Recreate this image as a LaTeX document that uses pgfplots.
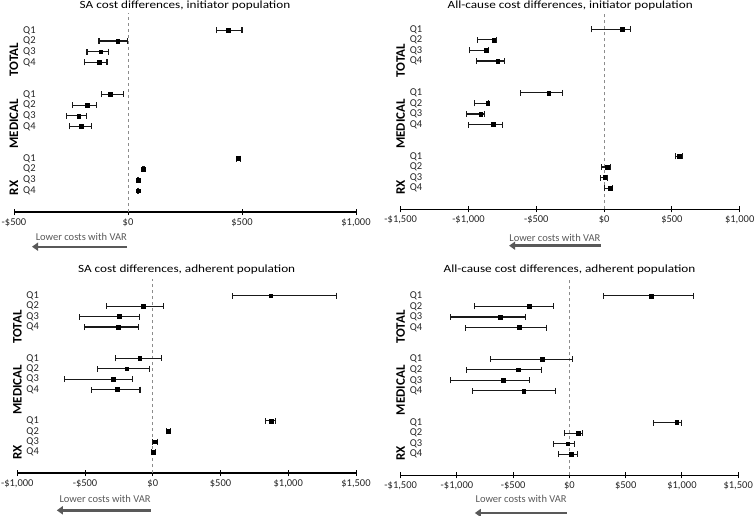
\documentclass[border=0pt]{standalone}
\usepackage{pgfplots}
\pgfplotsset{compat=1.18}
\usepackage{pgfplotstable}
\usepackage{fontspec}
\setmainfont{Carlito}
\newfontfamily\titlefont{Carlito}[FakeStretch=1.2]
\usetikzlibrary{arrows.meta}

% y: row position (TOTAL Q1..Q4 = 17..14, MEDICAL = 11..8, RX = 5..2)
% x: cost difference, ep/em: upper/lower CI distance
\pgfplotstableread{
y x ep em
17 440 60 52
16 -45 41 82
15 -120 35 60
14 -125 33 66
11 -79 61 36
10 -180 40 63
9 -216 35 53
8 -207 48 49
5 484 9 8
4 66 4 4
3 44 3 3
2 45 3 3
}\dataA
\pgfplotstableread{
y x ep em
17 133 61 229
16 -814 18 118
15 -870 17 121
14 -784 51 155
11 -408 103 209
10 -858 7 101
9 -910 28 105
8 -816 69 182
5 556 24 30
4 22 22 42
3 5 17 34
2 44 20 39
}\dataB
\pgfplotstableread{
y x ep em
17 871 487 283
16 -69 150 271
15 -249 148 295
14 -253 147 249
11 -96 162 182
10 -192 165 219
9 -295 145 357
8 -261 167 192
5 876 30 42
4 113 17 15
3 15 19 17
2 5 17 15
}\dataC
\pgfplotstableread{
y x ep em
17 729 371 427
16 -359 217 489
15 -614 226 447
14 -448 241 477
11 -240 264 465
10 -459 207 454
9 -590 234 465
8 -406 279 456
5 954 42 207
4 77 42 118
3 -15 56 127
2 18 53 113
}\dataD

\definecolor{txtgray}{HTML}{595959}
\definecolor{dashgray}{HTML}{8C8C8C}

\pgfplotsset{
  panel/.style={
    scale only axis, clip=false,
    axis x line*=bottom, axis y line*=left,
    y axis line style={draw=none},
    x axis line style={-, line width=1.3pt},
    ymin=0, ymax=18,
    ytick={2,3,4,5,8,9,10,11,14,15,16,17},
    yticklabels={Q4,Q3,Q2,Q1,Q4,Q3,Q2,Q1,Q4,Q3,Q2,Q1},
    ytick style={draw=none},
    yticklabel style={anchor=west, inner sep=0pt, xshift=12pt,
      font=\fontsize{10.5}{12}\selectfont, text=black!85},
    xtick style={line width=1pt, black},
    tick align=center, major tick length=6pt,
    xticklabel style={font=\fontsize{10.5}{12}\selectfont, text=black!85},
  },
  ebar/.style={black, only marks, mark=square*, mark size=1.9pt,
    error bars/.cd, x dir=both, x explicit,
    error bar style={line width=1.15pt, black!90},
    error mark options={rotate=90, mark size=3pt, line width=1.1pt, black!90}},
}
\newcommand{\ttl}{\titlefont\fontsize{11}{13}\selectfont}
\newcommand{\grp}{\fontsize{13}{15}\selectfont\bfseries}
\newcommand{\low}{\fontsize{10.5}{12}\selectfont}

\begin{document}
\begin{tikzpicture}
\useasboundingbox (0,0) rectangle (756pt,-516pt);

% ---------- Panel 1 ----------
\begin{axis}[panel, at={(14pt,-212pt)}, anchor=south west,
  width=342pt, height=192.4pt,
  xmin=-500, xmax=1000, xtick={-500,0,500,1000},
  xticklabels={-\$500,\$0,\$500,{\$1,000}}]
  \draw[dashgray, dashed, line width=0.8pt] (axis cs:0,0) -- (axis cs:0,18.6);
  \addplot[ebar] table[x=x, y=y, x error plus=ep, x error minus=em]{\dataA};
  \node[font=\ttl] at (axis description cs:0.5,1) [yshift=13.6pt] {SA cost differences, initiator population};
  \node[font=\grp, rotate=90] at (axis cs:-500,15) [xshift=-8pt] {TOTAL};
  \node[font=\grp, rotate=90] at (axis cs:-500,9) [xshift=-8pt] {MEDICAL};
  \node[font=\grp, rotate=90] at (axis cs:-500,3) [xshift=-8pt] {RX};
  \node[font=\low, text=txtgray, anchor=east, inner sep=0pt] at (axis cs:0,0) [xshift=-1pt, yshift=-25.3pt] {Lower costs with VAR};
  \draw[txtgray, line width=2.4pt, -{Triangle[length=6pt,width=8pt]}] ([xshift=-1pt, yshift=-34.7pt]axis cs:0,0) -- ([xshift=-96pt, yshift=-34.7pt]axis cs:0,0);
\end{axis}

% ---------- Panel 2 ----------
\begin{axis}[panel, at={(400.7pt,-209.3pt)}, anchor=south west,
  width=339pt, height=190.6pt,
  xmin=-1500, xmax=1000, xtick={-1500,-1000,-500,0,500,1000},
  xticklabels={{-\$1,500},{-\$1,000},-\$500,\$0,\$500,{\$1,000}}]
  \draw[dashgray, dashed, line width=0.8pt] (axis cs:0,0) -- (axis cs:0,18.6);
  \addplot[ebar] table[x=x, y=y, x error plus=ep, x error minus=em]{\dataB};
  \node[font=\ttl] at (axis description cs:0.5,1) [yshift=12.7pt] {All-cause cost differences, initiator population};
  \node[font=\grp, rotate=90] at (axis cs:-1500,15) [xshift=-10pt] {TOTAL};
  \node[font=\grp, rotate=90] at (axis cs:-1500,9) [xshift=-10pt] {MEDICAL};
  \node[font=\grp, rotate=90] at (axis cs:-1500,3) [xshift=-10pt] {RX};
  \node[font=\low, text=txtgray, anchor=east, inner sep=0pt] at (axis cs:0,0) [xshift=-3.5pt, yshift=-29pt] {Lower costs with VAR};
  \draw[txtgray, line width=2.4pt, -{Triangle[length=6pt,width=8pt]}] ([xshift=-3.5pt, yshift=-36.4pt]axis cs:0,0) -- ([xshift=-95pt, yshift=-36.4pt]axis cs:0,0);
\end{axis}

% ---------- Panel 3 ----------
\begin{axis}[panel, at={(17.3pt,-473pt)}, anchor=south west,
  width=338.7pt, height=187.7pt,
  xmin=-1000, xmax=1500, xtick={-1000,-500,0,500,1000,1500},
  xticklabels={{-\$1,000},-\$500,\$0,\$500,{\$1,000},{\$1,500}}]
  \draw[dashgray, dashed, line width=0.8pt] (axis cs:0,0) -- (axis cs:0,18.6);
  \addplot[ebar] table[x=x, y=y, x error plus=ep, x error minus=em]{\dataC};
  \node[font=\ttl] at (axis description cs:0.5,1) [yshift=15.6pt] {SA cost differences, adherent population};
  \node[font=\grp, rotate=90] at (axis cs:-1000,15) [xshift=-10.5pt] {TOTAL};
  \node[font=\grp, rotate=90] at (axis cs:-1000,9) [xshift=-10.5pt] {MEDICAL};
  \node[font=\grp, rotate=90] at (axis cs:-1000,3) [xshift=-10.5pt] {RX};
  \node[font=\low, text=txtgray, anchor=east, inner sep=0pt] at (axis cs:0,0) [xshift=-2pt, yshift=-26.3pt] {Lower costs with VAR};
  \draw[txtgray, line width=2.4pt, -{Triangle[length=6pt,width=8pt]}] ([xshift=-2pt, yshift=-37.3pt]axis cs:0,0) -- ([xshift=-96pt, yshift=-37.3pt]axis cs:0,0);
\end{axis}

% ---------- Panel 4 ----------
\begin{axis}[panel, at={(400.7pt,-475.3pt)}, anchor=south west,
  width=337.5pt, height=190pt,
  xmin=-1500, xmax=1500, xtick={-1500,-1000,-500,0,500,1000,1500},
  xticklabels={{-\$1,500},{-\$1,000},-\$500,\$0,\$500,{\$1,000},{\$1,500}}]
  \draw[dashgray, dashed, line width=0.8pt] (axis cs:0,0) -- (axis cs:0,18.6);
  \addplot[ebar] table[x=x, y=y, x error plus=ep, x error minus=em]{\dataD};
  \node[font=\ttl] at (axis description cs:0.5,1) [yshift=15.6pt] {All-cause cost differences, adherent population};
  \node[font=\grp, rotate=90] at (axis cs:-1500,15) [xshift=-10pt] {TOTAL};
  \node[font=\grp, rotate=90] at (axis cs:-1500,9) [xshift=-10pt] {MEDICAL};
  \node[font=\grp, rotate=90] at (axis cs:-1500,3) [xshift=-10pt] {RX};
  \node[font=\low, text=txtgray, anchor=east, inner sep=0pt] at (axis cs:0,0) [xshift=-2.6pt, yshift=-24pt] {Lower costs with VAR};
  \draw[txtgray, line width=2.4pt, -{Triangle[length=6pt,width=8pt]}] ([xshift=-2.6pt, yshift=-37.7pt]axis cs:0,0) -- ([xshift=-94.6pt, yshift=-37.7pt]axis cs:0,0);
\end{axis}
\end{tikzpicture}
\end{document}
